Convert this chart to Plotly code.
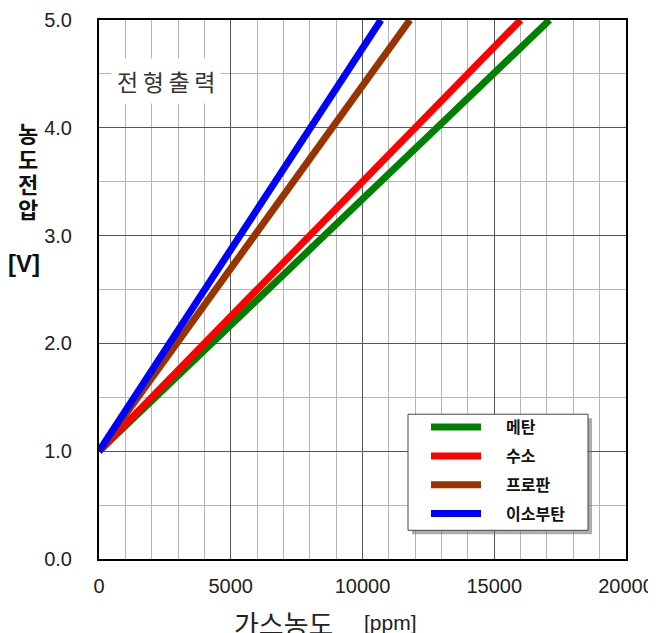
import plotly.graph_objects as go

# data
names = ["메탄", "수소", "프로판", "이소부탄"]
colors = ["#008000", "#ff0000", "#993300", "#0000ff"]
ppm_start = [0, 0, 0, 0]
ppm_end = [17100, 16000, 11800, 10700]
volt_start = [1.0, 1.0, 1.0, 1.0]
volt_end = [5.0, 5.0, 5.0, 5.0]

x_ticks = [0, 5000, 10000, 15000, 20000]
y_ticks = [0.0, 1.0, 2.0, 3.0, 4.0, 5.0]

# page has an 8px body margin; the figure is sized to fit the window
OFF = 8
W, H = 656 - OFF, 633 - OFF
X0, X1, Y0, Y1 = 99, 626, 20, 558.7  # plot area in window pixels
L, R, T, B = X0 - OFF, W - (X1 - OFF), Y0 - OFF, H - (Y1 - OFF)

def px(x):
    return (x - X0) / (X1 - X0)

def py(y):
    return (Y1 - y) / (Y1 - Y0)

KR = "Noto Sans CJK KR"
LAT = "Liberation Sans, Arial"

fig = go.Figure()
for i, n in enumerate(names):
    fig.add_trace(go.Scatter(
        x=[ppm_start[i], ppm_end[i]], y=[volt_start[i], volt_end[i]],
        mode="lines", name="\u2003\u2005" + n, legendgroup=n,
        line=dict(color=colors[i], width=7),
    ))

fig.update_layout(
    width=W, height=H,
    margin=dict(l=L, r=R, t=T, b=B, autoexpand=False),
    paper_bgcolor="white", plot_bgcolor="white",
    showlegend=True,
    legend=dict(
        x=px(426), y=py(410), xanchor="left", yanchor="top",
        bgcolor="rgba(0,0,0,0)", borderwidth=0,
        font=dict(family=KR, size=16, color="#111", weight="bold"),
        itemwidth=50, tracegroupgap=5,
    ),
    xaxis=dict(
        range=[0, 20000], tickvals=x_ticks, ticktext=[str(v) for v in x_ticks],
        showgrid=True, gridcolor="#555", gridwidth=1,
        minor=dict(dtick=1000, showgrid=True, gridcolor="#b5b5b5", gridwidth=1),
        showline=True, linecolor="black", linewidth=2, mirror=True,
        ticks="", zeroline=False, automargin=False,
        tickfont=dict(family=LAT, size=20, color="#222"),
        ticklabelstandoff=8,
    ),
    yaxis=dict(
        range=[0, 5.0], tickvals=y_ticks, ticktext=[f"{v:.1f}" for v in y_ticks],
        showgrid=True, gridcolor="#555", gridwidth=1,
        minor=dict(dtick=0.5, showgrid=True, gridcolor="#b5b5b5", gridwidth=1),
        showline=True, linecolor="black", linewidth=2, mirror=True,
        ticks="", zeroline=False, automargin=False,
        tickfont=dict(family=LAT, size=20, color="#222"),
        ticklabelstandoff=21,
    ),
)

# legend box with shadow
fig.add_shape(type="rect", xref="paper", yref="paper",
              x0=px(412), x1=px(592), y0=py(534), y1=py(418),
              fillcolor="#777", line=dict(width=0), layer="above", opacity=0.6)
fig.add_shape(type="rect", xref="paper", yref="paper",
              x0=px(408), x1=px(588), y0=py(530), y1=py(414),
              fillcolor="white", line=dict(color="#444", width=1), layer="above")

def note(text, x, y, font):
    return dict(text=text, x=px(x), y=py(y), xref="paper", yref="paper",
                xanchor="center", yanchor="middle", showarrow=False, font=font)

ann = []
a = note("전\u2009형\u2009출\u2009력", 166, 81, dict(family=KR, size=23, color="#333"))
a.update(bgcolor="white", borderpad=5)
ann.append(a)
for ch, yc in zip(["농", "도", "전", "압"], [132, 158, 183, 208]):
    ann.append(note(f"<b>{ch}</b>", 28, yc, dict(family=KR, size=22, color="#111")))
ann.append(note("<b>[V]</b>", 24, 263, dict(family=LAT, size=24, color="#111")))
ann.append(note("가스농도", 283, 623, dict(family=KR, size=27, color="#222")))
ann.append(note("[ppm]", 390, 622, dict(family=LAT, size=21, color="#222")))
fig.update_layout(annotations=ann)

fig.write_html("out.html")
